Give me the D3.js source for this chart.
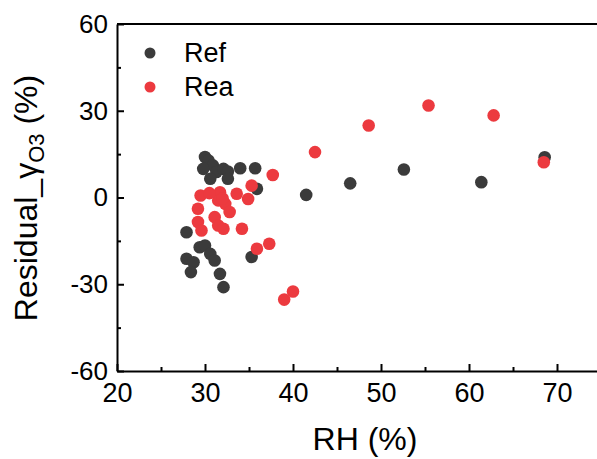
<!DOCTYPE html>
<meta charset="utf-8">
<style>
body { margin: 0; background: #fff; }
text { font-family: "Liberation Sans", Arial, sans-serif; fill: #000; }
</style>
<svg width="597" height="459" id="chart"></svg>
<script src="https://d3js.org/d3.v7.min.js"></script>
<script>
// Ref series (dark)
var refRH  = [30.0, 30.4, 30.9, 29.8, 31.3, 32.1, 32.6, 34.0, 35.7, 30.6, 32.6, 35.9,
              27.9, 29.4, 30.0, 30.6, 31.1, 27.9, 28.7, 28.4, 31.7, 32.1, 35.3,
              41.5, 46.5, 52.6, 61.4, 68.6];
var refRes = [14.0, 12.8, 11.1, 9.9, 8.8, 9.9, 9.0, 10.1, 10.1, 6.5, 6.5, 3.0,
              -12, -17.2, -16.6, -19.5, -21.8, -21.2, -22.4, -25.8, -26.4, -31, -20.6,
              0.9, 4.9, 9.7, 5.3, 13.9];
// Rea series (red)
var reaRH  = [29.5, 31.7, 31.5, 33.6, 34.9, 32.3, 32.8, 29.2, 31.1, 29.2, 31.5, 32.1,
              29.6, 34.2, 35.3, 37.7, 35.9, 37.3, 40.0, 39.0, 42.5, 48.6, 55.4, 62.8,
              68.5, 30.5, 32.0];
var reaRes = [0.7, 1.8, -1, 1.3, -0.5, -2.2, -5, -3.9, -6.8, -8.5, -9.7, -10.8,
              -11.4, -10.8, 4.1, 7.8, -17.7, -16, -32.5, -35.3, 15.7, 24.9, 31.8, 28.4,
              12.2, 1.5, -0.3];

var xTicks = [20, 30, 40, 50, 60, 70];
var yTicks = [-60, -30, 0, 30, 60];
var seriesNames = ["Ref", "Rea"];
var seriesColors = ["#3b3b3b", "#ec3a3f"];

var svg = d3.select("#chart");
var mLeft = 117, mTop = 24, mBottom = 371;

var x = d3.scaleLinear().domain([20, 75]).range([mLeft, mLeft + 484]);
var y = d3.scaleLinear().domain([-60, 60]).range([mBottom, mTop]);

// top frame line
svg.append("line").attr("x1", mLeft).attr("x2", 597).attr("y1", mTop).attr("y2", mTop)
  .attr("stroke", "#000").attr("stroke-width", 2);

// x axis
var xAxis = d3.axisBottom(x).tickValues(xTicks).tickSizeInner(-7).tickSizeOuter(0)
  .tickPadding(12).tickFormat(function(d) { return String(d); });
var gx = svg.append("g").attr("transform", "translate(0," + mBottom + ")").call(xAxis);
gx.select(".domain").attr("stroke-width", 2);
gx.selectAll(".tick line").attr("stroke-width", 2);
gx.selectAll(".tick text").style("font-size", "27px").attr("dy", "0.71em");

var xMinor = d3.axisBottom(x).tickValues([25, 35, 45, 55, 65]).tickSize(-4).tickFormat("");
var gxm = svg.append("g").attr("transform", "translate(0," + mBottom + ")").call(xMinor);
gxm.select(".domain").remove();
gxm.selectAll(".tick line").attr("stroke-width", 2);

// y axis
var yAxis = d3.axisLeft(y).tickValues(yTicks).tickSizeInner(-7).tickSizeOuter(0)
  .tickPadding(9).tickFormat(function(d) { return String(d); });
var gy = svg.append("g").attr("transform", "translate(" + mLeft + ",0)").call(yAxis);
gy.select(".domain").attr("stroke-width", 2);
gy.selectAll(".tick line").attr("stroke-width", 2);
gy.selectAll(".tick text").style("font-size", "26px");

var yMinor = d3.axisLeft(y).tickValues([-45, -15, 15, 45]).tickSize(-4).tickFormat("");
var gym = svg.append("g").attr("transform", "translate(" + mLeft + ",0)").call(yMinor);
gym.select(".domain").remove();
gym.selectAll(".tick line").attr("stroke-width", 2);

// axis titles
svg.append("text").attr("x", 365).attr("y", 450).attr("text-anchor", "middle")
  .style("font-size", "32px").text("RH (%)");

var yt = svg.append("text").attr("transform", "translate(37,198) rotate(-90)")
  .attr("text-anchor", "middle").style("font-size", "32px");
yt.append("tspan").text("Residual_γ");
yt.append("tspan").attr("dy", 7).style("font-size", "22px").text("O3");
yt.append("tspan").attr("dy", -7).text(" (%)");

// points
var ref = refRH.map(function(v, i) { return [v, refRes[i]]; });
var rea = reaRH.map(function(v, i) { return [v, reaRes[i]]; });

[ref, rea].forEach(function(data, k) {
  svg.append("g").selectAll("circle")
    .data(data)
    .enter()
    .append("circle")
    .attr("cx", function(d) { return x(d[0]); })
    .attr("cy", function(d) { return y(d[1]); })
    .attr("r", 6.3)
    .attr("fill", seriesColors[k]);
});

// legend
var legend = svg.append("g").selectAll("g")
  .data(seriesNames)
  .enter()
  .append("g")
  .attr("transform", function(d, i) { return "translate(150," + (53 + i * 34) + ")"; });
legend.append("circle").attr("r", 5.5).attr("fill", function(d, i) { return seriesColors[i]; });
legend.append("text").attr("x", 34).attr("dy", "0.35em").style("font-size", "27px")
  .text(function(d) { return d; });
</script>
